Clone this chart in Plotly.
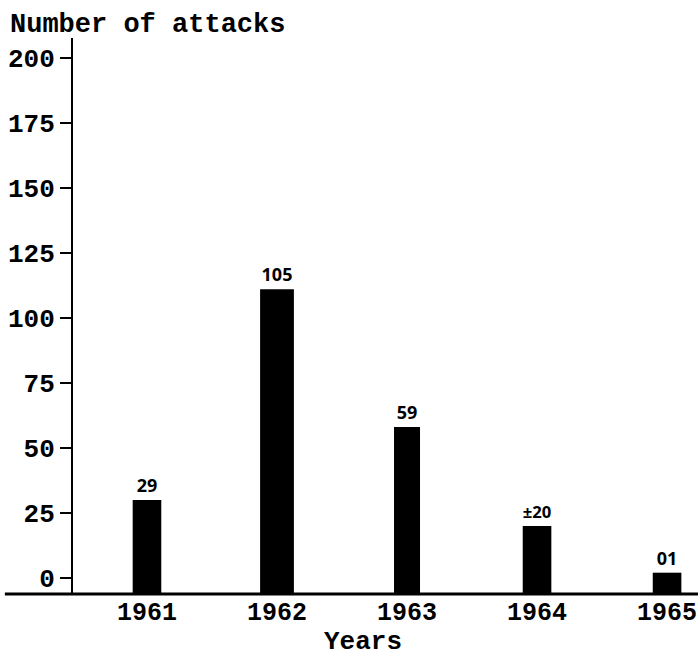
import plotly.graph_objects as go

years = ["1961", "1962", "1963", "1964", "1965"]
bar_values = [30, 111, 58, 20, 2]
label_texts = ["29", "105", "59", "±20", "01"]
y_ticks = [0, 25, 50, 75, 100, 125, 150, 175, 200]
bar_widths = [0.22, 0.26, 0.2, 0.22, 0.22]

Y_MIN, Y_MAX = -6.2, 207.7
FONT = "Liberation Mono"

fig = go.Figure()
fig.add_trace(go.Bar(
    x=years,
    y=[v - Y_MIN for v in bar_values],
    base=Y_MIN,
    width=bar_widths,
    marker=dict(color="black", line=dict(width=0)),
    text=label_texts,
    textposition="outside",
    cliponaxis=False,
    textfont=dict(family="Noto Sans", size=18, color="black", weight="bold"),
))

fig.update_layout(
    width=698, height=656,
    margin=dict(l=73, r=0, t=38, b=62),
    paper_bgcolor="white", plot_bgcolor="white",
    showlegend=False,
    font=dict(family=FONT, size=26, color="black", weight="bold"),
    xaxis=dict(
        type="category", range=[-0.569, 4.238],
        showgrid=False, zeroline=False, showline=False,
        ticks="", tickfont=dict(family=FONT, size=25, weight="bold"),
    ),
    yaxis=dict(
        range=[Y_MIN, Y_MAX], tickvals=y_ticks,
        showgrid=False, zeroline=False,
        showline=True, linecolor="black", linewidth=2,
        ticks="outside", ticklen=11, tickwidth=2, tickcolor="black",
        tickfont=dict(family=FONT, size=26, weight="bold"),
    ),
    annotations=[
        dict(text="Number of attacks", xref="paper", yref="paper",
             x=-0.104, y=1.023, xanchor="left", yanchor="middle",
             showarrow=False, font=dict(family=FONT, size=27, weight="bold")),
        dict(text="Years", xref="paper", yref="paper",
             x=0.464, y=-0.086, xanchor="center", yanchor="middle",
             showarrow=False, font=dict(family=FONT, size=26, weight="bold")),
    ],
    shapes=[
        dict(type="line", xref="paper", yref="paper",
             x0=-0.109, x1=1.0, y0=0, y1=0,
             line=dict(color="black", width=3)),
    ],
)

fig.write_html("out.html", config={"displayModeBar": False})

# remove default page margin so the figure sits at the window's top-left corner
with open("out.html", "r", encoding="utf-8") as f:
    html = f.read()
html = html.replace("<head>", "<head><style>html,body{margin:0;padding:0;}</style>", 1)
with open("out.html", "w", encoding="utf-8") as f:
    f.write(html)
